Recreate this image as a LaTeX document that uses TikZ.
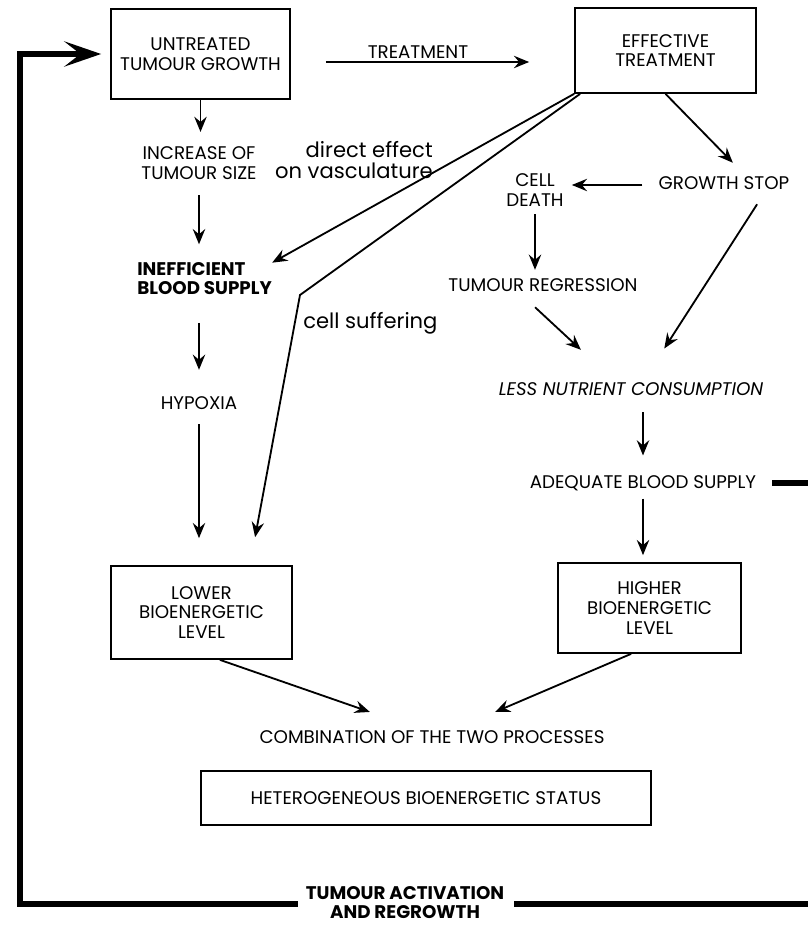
\documentclass[tikz,border=0pt]{standalone}
\usepackage{fontspec}
\setmainfont{Poppins}
\usetikzlibrary{arrows.meta,calc}

\begin{document}
\begin{tikzpicture}[
  x=0.025cm, y=-0.025cm,
  box/.style={rectangle, draw, line width=1.2pt, align=center, font=\fontsize{13}{14}\selectfont, inner sep=0pt},
  txt/.style={align=center, font=\fontsize{13}{14}\selectfont, inner sep=0pt},
  txtb/.style={align=center, font=\fontsize{13}{13.5}\selectfont\bfseries, inner sep=0pt},
  note/.style={align=right, font=\fontsize{15}{14.5}\selectfont, inner sep=0pt},
  arrow/.style={-{Stealth[length=3.8mm, width=3.1mm, inset=1.3mm]}, line width=1.3pt},
  feedback/.style={line width=3.6pt},
]
\useasboundingbox (0,0) rectangle (808,926);

% === TREATMENT ===
\node[box, minimum width=4.475cm, minimum height=2.25cm] (untreated) at (200.5,54) {UNTREATED\\TUMOUR GROWTH};
\node[box, minimum width=4.525cm, minimum height=2.125cm] (effective) at (665.5,50.5) {EFFECTIVE\\TREATMENT};
\node[txt] (treat) at (418,52) {TREATMENT};

% === LEFT BRANCH ===
\node[txt] (increase) at (199,163) {INCREASE OF\\TUMOUR SIZE};
\node[note, anchor=east] (direct) at (433,160) {direct effect\\on vasculature};
\node[txtb, align=left, anchor=west] (ineff) at (137,279) {INEFFICIENT\\BLOOD SUPPLY};
\node[txt] (hypoxia) at (199,403) {HYPOXIA};
\node[note, align=left, anchor=west] (suffer) at (303,323) {cell suffering};
\node[box, minimum width=4.525cm, minimum height=2.325cm] (lower) at (201.5,612.5) {LOWER\\BIOENERGETIC\\LEVEL};

% === RIGHT BRANCH ===
\node[txt] (death) at (535,190) {CELL\\DEATH};
\node[txt] (growth) at (724,183) {GROWTH STOP};
\node[txt] (regress) at (543,285) {TUMOUR REGRESSION};
\node[txt, font=\fontsize{13}{14}\selectfont\itshape] (nutrient) at (631,389) {LESS NUTRIENT CONSUMPTION};
\node[txt] (adequate) at (643,483) {ADEQUATE BLOOD SUPPLY};
\node[box, minimum width=4.575cm, minimum height=2.25cm] (higher) at (649.5,608) {HIGHER\\BIOENERGETIC\\LEVEL};

% === OUTCOME ===
\node[txt] (combine) at (432,737) {COMBINATION OF THE TWO PROCESSES};
\node[box, minimum width=11.25cm, minimum height=1.35cm] (hetero) at (426,798) {HETEROGENEOUS BIOENERGETIC STATUS};
\node[txtb] (activ) at (405,903) {TUMOUR ACTIVATION\\AND REGROWTH};

\coordinate (kink) at (300,295);
\coordinate (botleft) at (20,904);
\coordinate (edge) at (808,904);

\draw[arrow, shorten <=0.875cm, shorten >=1.125cm] ([yshift=-0.2cm]untreated.east) -- ([yshift=-0.2cm]untreated.east -| effective.west);
\draw[arrow, shorten >=0.36cm] (untreated.south) -- (untreated.south |- increase.north);
\draw[arrow, shorten <=0.39cm, shorten >=0.46cm] (increase.south) -- (increase.south |- ineff.north);
\draw[arrow, shorten <=0.69cm, shorten >=0.66cm] (ineff.south -| hypoxia.north) -- (hypoxia.north);
\draw[arrow, shorten <=0.36cm, shorten >=0.675cm] (hypoxia.south) -- (hypoxia.south |- lower.north);
\draw[arrow] (effective.south west) -- (ineff.north east);
\draw[arrow, shorten >=0.71cm] ([xshift=0.15cm]effective.south west) -- (kink) -- ([xshift=1.21cm]lower.north);

\draw[arrow, shorten >=0.47cm] (effective.south) -- ([xshift=0.55cm]growth.north);
\draw[arrow, shorten <=0.4cm, shorten >=0.2cm] ([yshift=-0.05cm]growth.west) -- ([yshift=-0.05cm]growth.west -| death.east);
\draw[arrow, shorten <=0.19cm, shorten >=0.21cm] (death.south) -- (death.south |- regress.north);
\draw[arrow, shorten <=0.57cm, shorten >=1.19cm] ([xshift=-0.615cm]regress.south) -- ([xshift=-0.38cm]nutrient.north);
\draw[arrow, shorten <=0.43cm, shorten >=1.0cm] ([xshift=1.06cm]growth.south) -- ([xshift=0.29cm]nutrient.north);
\draw[arrow, shorten <=0.41cm, shorten >=0.49cm] (nutrient.south -| adequate.north) -- (adequate.north);
\draw[arrow, shorten <=0.19cm, shorten >=0.175cm] (adequate.south) -- (adequate.south |- higher.north);

\draw[arrow, shorten >=1.39cm] ([xshift=0.46cm]lower.south) -- ([xshift=-0.24cm]combine.north);
\draw[arrow, shorten >=1.16cm] ([xshift=-0.46cm]higher.south) -- ([xshift=0.51cm]combine.north);

% feedback loop
\draw[feedback, shorten <=0.4cm] (adequate.east) -- (adequate.east -| edge);
\draw[feedback, shorten <=0.25cm] (activ.east |- edge) -- (edge);
\draw[feedback, shorten <=0.2cm, shorten >=0.225cm, -{Stealth[length=9.2mm, width=6.3mm, inset=4mm]}] (activ.west |- botleft) -- (botleft) |- (untreated.west);
\end{tikzpicture}
\end{document}
